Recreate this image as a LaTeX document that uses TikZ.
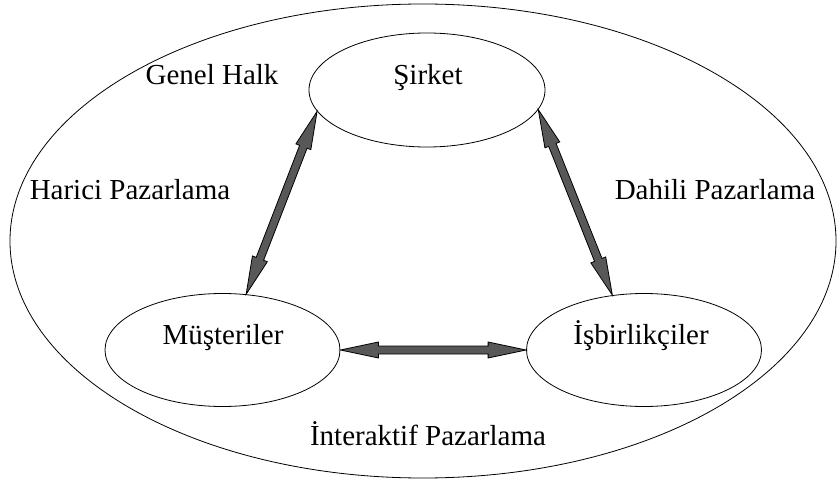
\documentclass[tikz,border=0pt]{standalone}
\usepackage{fontspec}
\setmainfont{Liberation Serif}
\usetikzlibrary{calc,shapes.geometric}
\definecolor{arrowgray}{RGB}{88,88,88}
\tikzset{
  zone/.style={draw, ellipse, line width=0.8pt, inner sep=0pt},
  party/.style={zone, minimum width=236pt, minimum height=114pt},
  lbl/.style={font=\fontsize{29}{34}\selectfont, inner sep=0pt, anchor=base},
  blockarrow/.style={draw, fill=arrowgray, line width=0.8pt, line join=miter},
}
% Double-headed block arrow drawn as one outlined polygon between two tips
\newcommand\blockconnector[2]{%
  \coordinate (ha) at ($(#1)!38pt!(#2)$);
  \coordinate (hb) at ($(#2)!38pt!(#1)$);
  \draw[blockarrow] (#1)
    -- ($(ha)!8pt!90:(#2)$) -- ($(ha)!4pt!90:(#2)$)
    -- ($(hb)!4pt!-90:(#1)$) -- ($(hb)!8pt!-90:(#1)$)
    -- (#2)
    -- ($(hb)!8pt!90:(#1)$) -- ($(hb)!4pt!90:(#1)$)
    -- ($(ha)!4pt!-90:(#2)$) -- ($(ha)!8pt!-90:(#2)$)
    -- cycle;
}
\begin{document}
\begin{tikzpicture}[x=1pt, y=-1pt]
  \useasboundingbox (0,0) rectangle (838,481);

  % outer zone
  \node[zone, minimum width=826pt, minimum height=474pt] (public) at (423,241) {};

  % the three parties
  \node[party] (sirket) at (427,90) {};
  \node[party, minimum width=235pt, minimum height=113pt] (musteri) at (222.5,350) {};
  \node[party, minimum width=235pt, minimum height=113pt] (isbirlik) at (644,350) {};

  \node[lbl] (sirkettxt) at (428,85) {Şirket};
  \node[lbl] (musteritxt) at (223,344) {Müşteriler};
  \node[lbl] (isbirliktxt) at (641,344) {İşbirlikçiler};

  % labels in the outer zone
  \node[lbl] (genel) at (212,85) {Genel Halk};
  \node[lbl] (harici) at (130,200) {Harici Pazarlama};
  \node[lbl] (dahili) at (715,200) {Dahili Pazarlama};
  \node[lbl] (interaktif) at (428,445) {İnteraktif Pazarlama};

  % connector end points on the ellipse borders
  \coordinate (s1) at (sirket.191);
  \coordinate (m1) at (musteri.67);
  \coordinate (s2) at (sirket.350);
  \coordinate (i1) at (isbirlik.120);
  \coordinate (m2) at (musteri.east);
  \coordinate (i2) at (isbirlik.west);

  \blockconnector{m1}{s1}
  \blockconnector{i1}{s2}
  \blockconnector{m2}{i2}
\end{tikzpicture}
\end{document}
